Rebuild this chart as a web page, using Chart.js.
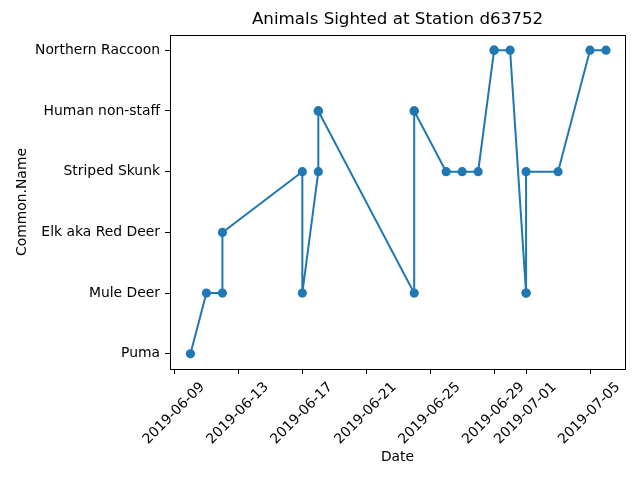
<!DOCTYPE html>
<html>
<head>
<meta charset="utf-8">
<script src="https://cdn.jsdelivr.net/npm/chart.js@4.4.1/dist/chart.umd.min.js"></script>
<style>
  html, body { margin: 0; padding: 0; background: #fff; }
  #wrap { width: 640px; height: 480px; }
</style>
</head>
<body>
<div id="wrap"><canvas id="sightingsChart" width="640" height="480"></canvas></div>
<script>
const categories = ['Puma', 'Mule Deer', 'Elk aka Red Deer', 'Striped Skunk', 'Human non-staff', 'Northern Raccoon'];

// some days have repeated sightings of the same animal (drawn on top of each other)
const sightingDates = [
    '2019-06-10', '2019-06-11', '2019-06-12', '2019-06-12', '2019-06-17',
    '2019-06-17', '2019-06-18', '2019-06-18', '2019-06-18', '2019-06-24',
    '2019-06-24', '2019-06-24', '2019-06-26', '2019-06-27', '2019-06-28',
    '2019-06-29', '2019-06-29', '2019-06-30', '2019-07-01', '2019-07-01',
    '2019-07-01', '2019-07-03', '2019-07-05', '2019-07-06'
];

const sightingNames = [
    'Puma', 'Mule Deer', 'Mule Deer', 'Elk aka Red Deer', 'Striped Skunk',
    'Mule Deer', 'Striped Skunk', 'Human non-staff', 'Human non-staff', 'Mule Deer',
    'Human non-staff', 'Human non-staff', 'Striped Skunk', 'Striped Skunk', 'Striped Skunk',
    'Northern Raccoon', 'Northern Raccoon', 'Northern Raccoon', 'Mule Deer', 'Mule Deer',
    'Striped Skunk', 'Striped Skunk', 'Northern Raccoon', 'Northern Raccoon'
];

const dateTicks = ['2019-06-09', '2019-06-13', '2019-06-17', '2019-06-21', '2019-06-25', '2019-06-29', '2019-07-01', '2019-07-05'];

const DAY = 86400000;
function toDay(s) {
    const p = s.split('-').map(Number);
    return Date.UTC(p[0], p[1] - 1, p[2]) / DAY;
}
function fromDay(v) {
    return new Date(Math.round(v) * DAY).toISOString().slice(0, 10);
}

const points = sightingDates.map((d, i) => ({ x: toDay(d), y: categories.indexOf(sightingNames[i]) }));

// matplotlib style frame around the plot area
const boxPlugin = {
    id: 'boxPlugin',
    afterDraw(chart) {
        const a = chart.chartArea;
        const ctx = chart.ctx;
        ctx.save();
        ctx.strokeStyle = '#000';
        ctx.lineWidth = 1;
        ctx.strokeRect(Math.round(a.left) + 0.5, Math.round(a.top) + 0.5, Math.round(a.right - a.left), Math.round(a.bottom - a.top));
        ctx.restore();
    }
};

const font = { family: 'DejaVu Sans', size: 13.9 };

new Chart(document.getElementById('sightingsChart'), {
    type: 'line',
    data: {
        datasets: [{
            data: points,
            borderColor: '#1f77b4',
            backgroundColor: '#1f77b4',
            borderWidth: 2,
            pointRadius: 4.6,
            pointHoverRadius: 4.6,
            pointBorderWidth: 0,
            tension: 0,
            fill: false
        }]
    },
    plugins: [boxPlugin],
    options: {
        responsive: false,
        animation: false,
        layout: { padding: { left: 0, right: 15, top: 0, bottom: 0 } },
        plugins: {
            legend: { display: false },
            tooltip: { enabled: false },
            title: {
                display: true,
                text: 'Animals Sighted at Station d63752',
                fullSize: false,
                color: '#000',
                font: { family: 'DejaVu Sans', size: 16.7, weight: 'normal' },
                padding: { top: 10, bottom: 5 }
            }
        },
        scales: {
            x: {
                type: 'linear',
                min: toDay('2019-06-09') - 0.28,
                max: toDay('2019-07-05') + 2.19,
                afterBuildTicks(scale) {
                    scale.ticks = dateTicks.map(d => ({ value: toDay(d) }));
                },
                afterFit(scale) { scale.height = 111; },
                grid: { display: true, drawOnChartArea: false, drawTicks: true, tickLength: 5, color: '#000', tickColor: '#000' },
                border: { display: false },
                ticks: {
                    autoSkip: false,
                    maxRotation: 45,
                    minRotation: 45,
                    labelOffset: 28,
                    padding: 5,
                    color: '#000',
                    font: font,
                    callback: v => fromDay(v)
                },
                title: { display: true, text: 'Date', color: '#000', font: font, padding: { top: 4, bottom: 14 } }
            },
            y: {
                type: 'linear',
                min: -0.25,
                max: 5.25,
                afterBuildTicks(scale) {
                    scale.ticks = categories.map((c, i) => ({ value: i }));
                },
                afterFit(scale) { scale.width = 170; },
                grid: { display: true, drawOnChartArea: false, drawTicks: true, tickLength: 5, color: '#000', tickColor: '#000' },
                border: { display: false },
                ticks: {
                    padding: 5,
                    color: '#000',
                    font: font,
                    callback: v => categories[v] !== undefined ? categories[v] : ''
                },
                title: { display: true, text: 'Common.Name', color: '#000', font: font, padding: { top: 14, bottom: 4 } }
            }
        }
    }
});
</script>
</body>
</html>
